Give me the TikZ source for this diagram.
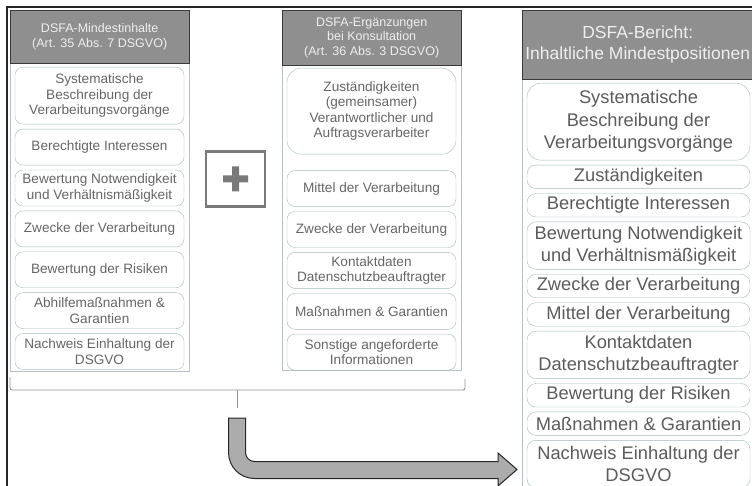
\documentclass[tikz,border=0pt]{standalone}
\usepackage{fontspec}
\setmainfont{Liberation Sans}
\usetikzlibrary{positioning}

\definecolor{hdrgray}{HTML}{8F8F8F}
\definecolor{hdrline}{HTML}{3A3A3A}
\definecolor{hdrtext}{HTML}{EEEEEE}
\definecolor{pnlline}{HTML}{B9BFC8}
\definecolor{itmline}{HTML}{A3B9BA}
\definecolor{itmtext}{HTML}{666666}
\definecolor{plusgray}{HTML}{7A7A7A}

\begin{document}
\begin{tikzpicture}[x=1pt, y=-1pt, node distance=4.5pt,
  every node/.append style={align=center},
  pnl/.style={draw=pnlline, fill=white, inner sep=0pt, anchor=north west},
  hdr/.style={draw=hdrline, fill=hdrgray, text=hdrtext, inner sep=0pt, anchor=north west,
    font=\fontsize{12.5}{14.5}\selectfont},
  itm/.style={draw=itmline, rounded corners=8pt, text=itmtext, inner sep=0pt,
    minimum width=169pt, minimum height=36pt, font=\fontsize{13.6}{15.5}\selectfont},
  bigitm/.style={itm, minimum width=223pt, minimum height=23.5pt, rounded corners=9pt,
    text=itmtext!90!black, font=\fontsize{18.3}{22.5}\selectfont},
  brc/.style={draw=gray!85, line width=0.9pt},
  bigarrow/.style={fill=gray!65, draw=black!85, line width=1pt, line join=miter}]
 \useasboundingbox (0,0) rectangle (752,486);
 \fill[white] (0,0) rectangle (752,486);
 \draw[black!85, line width=2pt] (7,495) |- (760,7);

 % left column
 \node [pnl, minimum width=179pt, minimum height=361pt] (Lp) at (10,10) {};
 \node [hdr, minimum width=179pt, minimum height=53pt] (Lh) at (10,10)
   {DSFA-Mindestinhalte\\(Art. 35 Abs. 7 DSGVO)};
 \node [itm, minimum height=57pt, anchor=north] (L1) at (99.5,67)
   {Systematische\\Beschreibung der\\Verarbeitungsvorgänge};
 \node [itm, below=of L1] (L2) {Berechtigte Interessen};
 \node [itm, below=of L2] (L3) {Bewertung Notwendigkeit\\und Verhältnismäßigkeit};
 \node [itm, below=of L3] (L4) {Zwecke der Verarbeitung};
 \node [itm, below=of L4] (L5) {Bewertung der Risiken};
 \node [itm, below=of L5] (L6) {Abhilfemaßnahmen \&\\Garantien};
 \node [itm, below=of L6] (L7) {Nachweis Einhaltung der\\DSGVO};

 % plus
 \node [draw=plusgray, line width=2.5pt, minimum width=59pt, minimum height=55pt] (P) at (235.5,179) {};
 \fill[plusgray] (P.center) +(-12.5,-3.5) rectangle +(12.5,3.5)
                 (P.center) +(-3.5,-12.5) rectangle +(3.5,12.5);

 % middle column
 \node [pnl, minimum width=179pt, minimum height=360pt] (Mp) at (282,10) {};
 \node [hdr, minimum width=179pt, minimum height=55pt] (Mh) at (282,10)
   {DSFA-Ergänzungen\\bei Konsultation\\(Art. 36 Abs. 3 DSGVO)};
 \node [itm, minimum height=86pt, rounded corners=14pt, anchor=north] (M1) at (371.5,68)
   {Zuständigkeiten\\(gemeinsamer)\\Verantwortlicher und\\Auftragsverarbeiter};
 \node [itm, below=16pt of M1] (M2) {Mittel der Verarbeitung};
 \node [itm, below=of M2] (M3) {Zwecke der Verarbeitung};
 \node [itm, below=of M3] (M4) {Kontaktdaten\\Datenschutzbeauftragter};
 \node [itm, below=of M4] (M5) {Maßnahmen \& Garantien};
 \node [itm, below=of M5] (M6) {Sonstige angeforderte\\Informationen};

 % right column
 \node [pnl, minimum width=234pt, minimum height=490pt] (Rp) at (522,10) {};
 \node [hdr, minimum width=231pt, minimum height=69pt, font=\fontsize{17.5}{20.5}\selectfont] (Rh) at (522,10)
   {DSFA-Bericht:\\Inhaltliche Mindestpositionen};
 \node [bigitm, minimum height=77pt, rounded corners=14pt, anchor=north] (R1) at (638.5,83)
   {Systematische\\Beschreibung der\\Verarbeitungsvorgänge};
 \node [bigitm, below=of R1] (R2) {Zuständigkeiten};
 \node [bigitm, below=of R2] (R3) {Berechtigte Interessen};
 \node [bigitm, below=of R3, minimum height=47.5pt] (R4) {Bewertung Notwendigkeit\\und Verhältnismäßigkeit};
 \node [bigitm, below=of R4] (R5) {Zwecke der Verarbeitung};
 \node [bigitm, below=of R5] (R6) {Mittel der Verarbeitung};
 \node [bigitm, below=of R6, minimum height=47.5pt] (R7) {Kontaktdaten\\Datenschutzbeauftragter};
 \node [bigitm, below=of R7] (R8) {Bewertung der Risiken};
 \node [bigitm, below=of R8] (R9) {Maßnahmen \& Garantien};
 \node [bigitm, below=of R9, minimum height=47.5pt] (R10) {Nachweis Einhaltung der\\DSGVO};

 % brace under the two source columns
 \coordinate (bl) at (10,377);
 \coordinate (br) at (465,379);
 \coordinate (bm) at (237,390);
 \coordinate (bt) at (237,408);
 \draw[brc, rounded corners=2pt] (bl) |- (br |- bm) -- (br);
 \draw[brc] (bm) -- (bt);

 % bent arrow to the report
 \draw[bigarrow] (228.5,418) -- (228.5,452.5) arc[start angle=180, end angle=90, radius=26]
   -- (498,478.5) -- (498,486) -- (517,469.5) -- (498,453) -- (498,461.5) -- (254.5,461.5)
   arc[start angle=90, end angle=180, radius=9] -- (245.5,418) -- cycle;
\end{tikzpicture}
\end{document}
